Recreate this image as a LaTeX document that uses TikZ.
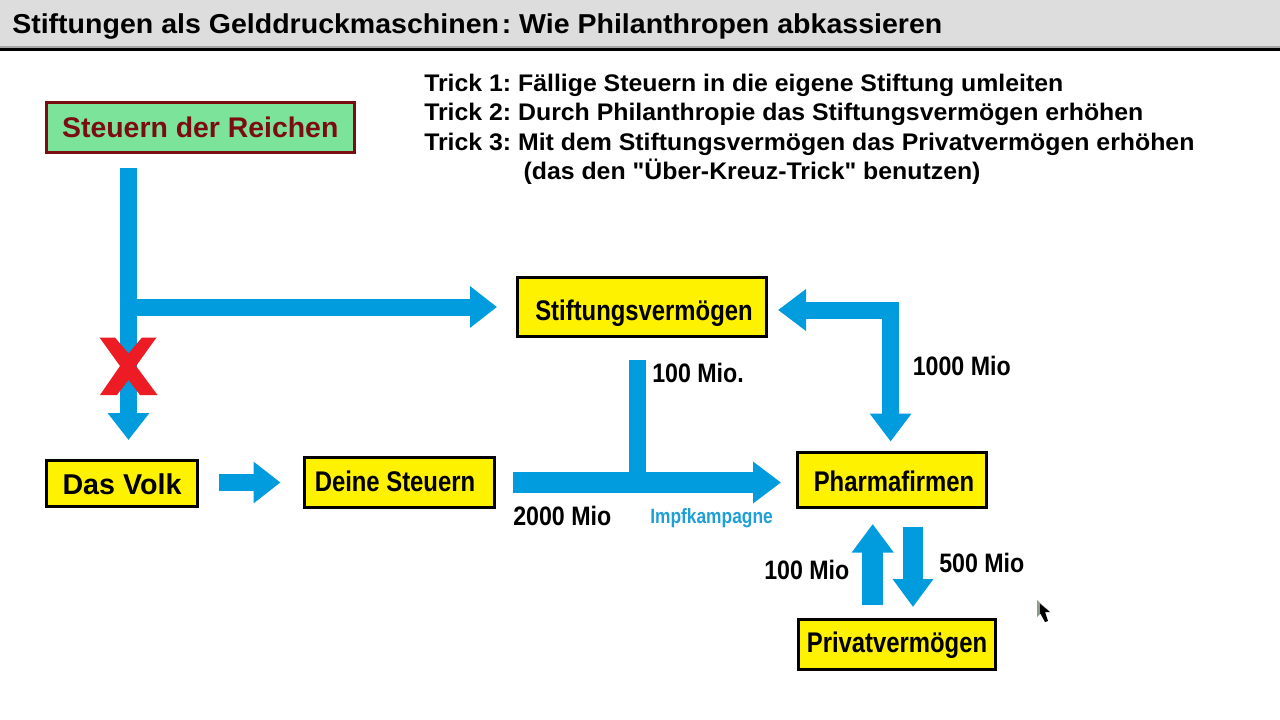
\documentclass[tikz,border=0pt]{standalone}
\usepackage{fontspec}
\setmainfont{Liberation Sans}
\newfontfamily\boxfont[FakeStretch=0.84]{Liberation Sans}
\newfontfamily\amountfont[FakeStretch=0.87]{Liberation Sans}
\newfontfamily\titlefont[FakeStretch=1.044]{Liberation Sans}
\newfontfamily\trickfont[FakeStretch=1.035]{Liberation Sans}
\usepackage{xcolor}
\usepackage{tikz}
\usetikzlibrary{arrows.meta}
\newcommand{\pxu}{0.75pt}
\definecolor{flowblue}{HTML}{009CDE}
\definecolor{labelblue}{HTML}{1E9FD8}
\definecolor{boxyellow}{HTML}{FFF200}
\definecolor{crossred}{HTML}{ED1C24}
\definecolor{taxgreen}{HTML}{7CE39A}
\definecolor{taxred}{HTML}{7B0D12}
\definecolor{barback}{HTML}{DDDDDD}
\definecolor{barline}{HTML}{A6A6A6}
\definecolor{pointergray}{HTML}{8A9C8A}

\begin{document}
\frenchspacing
\begin{tikzpicture}[x=\pxu, y=-\pxu,
    box/.style={draw=black, fill=boxyellow, line width=3*\pxu, inner sep=0pt, text depth=0pt, font=\boxfont\fontsize{21.3}{24}\bfseries},
    flow/.style={draw=flowblue, line width=17*\pxu, -{Triangle[length=27*\pxu, width=40*\pxu]}},
    stem/.style={draw=flowblue, line width=16.5*\pxu},
    amount/.style={inner sep=0pt, anchor=base west, font=\amountfont\fontsize{20}{24}\bfseries}]
    \useasboundingbox (0,0) rectangle (1280,720);

    % title bar
    \fill[barback] (0,0) rectangle (1280,46.5);
    \fill[barline] (0,46.5) rectangle (1280,48.5);
    \fill[black] (0,48.5) rectangle (1280,51.5);
    \node (title) [anchor=base west, inner sep=0pt, font=\titlefont\fontsize{20.5}{24}\bfseries] at (12,34) {Stiftungen als Gelddruckmaschinen\kern2pt: Wie Philanthropen abkassieren};

    \node (tricks) [anchor=north west, inner sep=0pt, align=left, font=\trickfont\fontsize{18}{22}\bfseries] at (424,74) {Trick 1: Fällige Steuern in die eigene Stiftung umleiten\\ Trick 2: Durch Philanthropie das Stiftungsvermögen erhöhen\\ Trick 3: Mit dem Stiftungsvermögen das Privatvermögen erhöhen\\ \hspace{74.5pt}(das den "Über-Kreuz-Trick" benutzen)};

    \node (reichen) [draw=taxred, fill=taxgreen, text=taxred, line width=3*\pxu, inner sep=0pt, minimum width=308*\pxu, minimum height=50*\pxu, text height=15.75pt, text depth=0pt, font=\fontsize{21.3}{24}\bfseries] at (200.3,127.3) {Steuern der Reichen};
    \node (stiftung) [box, minimum width=249*\pxu, minimum height=59*\pxu, text height=19.5pt] at (642,307) {\hspace*{3pt}Stiftungsvermögen};
    \node (volk) [box, minimum width=151*\pxu, minimum height=46*\pxu, text height=15.75pt, font=\fontsize{21.5}{24}\bfseries] at (122,483.5) {Das Volk};
    \node (steuern) [box, minimum width=190*\pxu, minimum height=50*\pxu, text height=12.75pt] at (399,482.5) {Deine Steuern\hspace*{6pt}};
    \node (pharma) [box, minimum width=189*\pxu, minimum height=55*\pxu, text height=17.5pt] at (892,480) {\hspace*{3pt}Pharmafirmen};
    \node (privat) [box, minimum width=197*\pxu, minimum height=50*\pxu, text height=12.3pt] at (897,644.5) {Privatvermögen};

    \coordinate (taxtop) at (128.5,154);
    \coordinate (grant) at (637.3,338);
    \coordinate (turn) at (890.6,310);
    \coordinate (upline) at (872.7,560);
    \coordinate (downline) at (913,560);

    % money flows
    \draw[flow, shorten <=14*\pxu, shorten >=19*\pxu] (taxtop) -- (taxtop |- volk.north);
    \draw[flow, shorten >=19*\pxu] (taxtop |- stiftung.west) -- (stiftung.west);
    \draw[flow, shorten <=20*\pxu, shorten >=22*\pxu] (volk.east |- steuern.west) -- (steuern.west);
    \draw[stem, shorten <=22*\pxu] (grant) -- (grant |- steuern.east);
    \draw[flow, line width=21*\pxu, shorten <=17*\pxu, shorten >=15*\pxu, -{Triangle[length=28*\pxu, width=40*\pxu]}] (steuern.east) -- (steuern.east -| pharma.west);
    \draw[flow, <->, >={Triangle[length=28*\pxu, width=40*\pxu]}, shorten <=10*\pxu, shorten >=9.5*\pxu] (stiftung.east |- turn) -- (turn) -- (turn |- pharma.north);
    \draw[flow, line width=20.5*\pxu, shorten <=13*\pxu, shorten >=15*\pxu, -{Triangle[length=28.5*\pxu, width=40*\pxu]}] (upline |- privat.north) -- (upline |- pharma.south);
    \draw[flow, line width=20.5*\pxu, shorten <=17.7*\pxu, shorten >=11*\pxu, -{Triangle[length=28*\pxu, width=39*\pxu]}] (downline |- pharma.south) -- (downline |- privat.north);

    % cross over the blocked flow
    \fill[crossred] (99.5,337.5) -- (115,337.5) -- (128.5,353.5) -- (142,337.5) -- (156.5,337.5) -- (136,366) -- (157.5,395) -- (140,395) -- (128.5,380) -- (117,395) -- (100,395) -- (120,366) -- cycle;

    \node (mioa) [amount] at (513,525) {2000 Mio};
    \node (miob) [amount] at (652,382) {100 Mio.};
    \node (mioc) [amount] at (912.5,375) {1000 Mio};
    \node (miod) [amount] at (764,579) {100 Mio};
    \node (mioe) [amount] at (939,572) {500 Mio};
    \node (impf) [amount, text=labelblue, font=\boxfont\fontsize{15.5}{18}\bfseries] at (650,523) {Impfkampagne};

    % mouse pointer
    \fill[pointergray] (1037,600) -- (1037,617) -- (1041,613) -- (1049,611) -- cycle;
    \fill[black] (1040,604) -- (1040,613) -- (1045,622) -- (1048,621) -- (1045,612) -- (1050,612) -- cycle;
\end{tikzpicture}
\end{document}
